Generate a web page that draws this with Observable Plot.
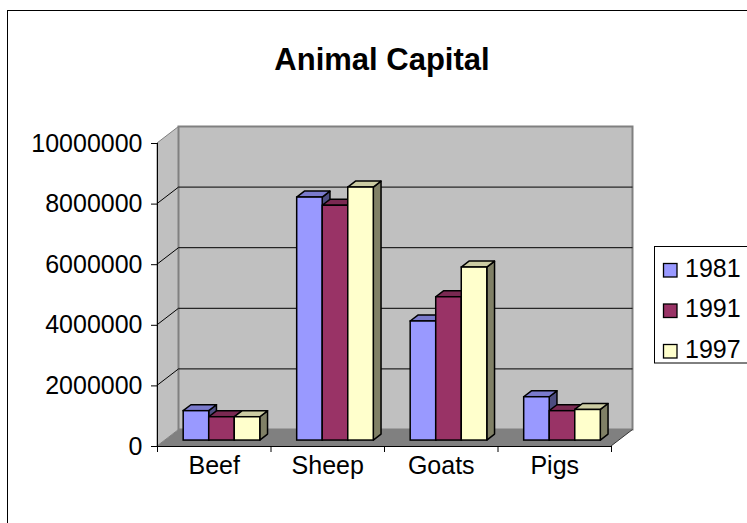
<!DOCTYPE html>
<html>
<head>
<meta charset="utf-8">
<script src="https://cdn.jsdelivr.net/npm/d3@7"></script>
<script src="https://cdn.jsdelivr.net/npm/@observablehq/plot@0.6"></script>
<style>
  html, body { margin: 0; padding: 0; background: #fff; }
  #chart { width: 747px; height: 523px; overflow: hidden; }
</style>
</head>
<body>
<div id="chart"></div>
<script>
// ---- data ----
const title = "Animal Capital";
const categories = ["Beef", "Sheep", "Goats", "Pigs"];
const years = ["1981", "1991", "1997"];
const values1981 = [970000, 8020000, 3930000, 1430000];
const values1991 = [770000, 7750000, 4730000, 970000];
const values1997 = [770000, 8350000, 5710000, 1010000];
const yTicks = [0, 2000000, 4000000, 6000000, 8000000, 10000000];

// ---- styles ----
const yearColors = ["#9999FF", "#993366", "#FFFFCC"];
const FONT = "'Liberation Sans', Arial, sans-serif";
const DX = 21.5, DY = 16.5;      // full depth offset of the 3D box (px)
const D0 = 0.36, D1 = 0.72;      // bar front/back depth fractions
const GROUP = 0.675;             // group width as fraction of category band

const seriesValues = [values1981, values1991, values1997];
const nCat = categories.length;
const yMax = yTicks[yTicks.length - 1];
const rows = [];
categories.forEach((c, ci) => years.forEach((yr, si) => {
  const w = GROUP / years.length;
  const x1 = ci + 0.5 - GROUP / 2 + si * w;
  rows.push({category: c, year: yr, value: seriesValues[si][ci], x1, x2: x1 + w, si});
}));

const shade = (c, k) => { const r = d3.rgb(c); return d3.rgb(r.r * k, r.g * k, r.b * k).formatHex(); };
const pts = (a) => a.map(p => p.map(v => +v.toFixed(2)).join(",")).join(" ");

function room(index, {x, y}) {
  const P = (u, v, d) => [x(u) + d * DX, y(v) - d * DY];
  const g = d3.create("svg:g");
  g.append("rect").attr("x", 7.5).attr("y", 10.5).attr("width", 2000).attr("height", 2000)
    .attr("fill", "none").attr("stroke", "#000");
  g.append("polygon").attr("points", pts([P(0, 0, 0), P(nCat, 0, 0), P(nCat, 0, 1), P(0, 0, 1)]))
    .attr("fill", "#808080");
  g.append("polygon").attr("points", pts([P(0, 0, 0), P(0, yMax, 0), P(0, yMax, 1), P(0, 0, 1)]))
    .attr("fill", "#c0c0c0").attr("stroke", "#808080");
  g.append("polygon").attr("points", pts([P(0, 0, 1), P(nCat, 0, 1), P(nCat, yMax, 1), P(0, yMax, 1)]))
    .attr("fill", "#c0c0c0").attr("stroke", "#808080").attr("stroke-width", 2);
  for (const t of yTicks) {
    if (t > 0 && t < yMax) {
      g.append("polyline").attr("points", pts([P(0, t, 0), P(0, t, 1), P(nCat, t, 1)]))
        .attr("fill", "none").attr("stroke", "#000");
    }
  }
  g.append("polyline").attr("points", pts([P(nCat, 0, 0), P(nCat, 0, 1)]))
    .attr("fill", "none").attr("stroke", "#333");
  return g.node();
}

function barSides(index, {x, y}) {
  const P = (u, v, d) => [x(u) + d * DX, y(v) - d * DY];
  const g = d3.create("svg:g").attr("stroke", "#000").attr("stroke-width", 1.5).attr("stroke-linejoin", "round");
  for (const r of rows) {
    const c = yearColors[r.si];
    g.append("polygon").attr("points", pts([P(r.x2, 0, D0), P(r.x2, r.value, D0), P(r.x2, r.value, D1), P(r.x2, 0, D1)]))
      .attr("fill", shade(c, 0.5));
    g.append("polygon").attr("points", pts([P(r.x1, r.value, D0), P(r.x2, r.value, D0), P(r.x2, r.value, D1), P(r.x1, r.value, D1)]))
      .attr("fill", shade(c, 0.8));
  }
  return g.node();
}

function legend() {
  const g = d3.create("svg:g");
  g.append("rect").attr("x", 654.5).attr("y", 246.5).attr("width", 200).attr("height", 116.5)
    .attr("fill", "#fff").attr("stroke", "#000");
  years.forEach((yr, i) => {
    g.append("rect").attr("x", 663.5).attr("y", 263.5 + i * 40.5).attr("width", 13.5).attr("height", 13.5)
      .attr("fill", yearColors[i]).attr("stroke", "#000").attr("stroke-width", 1.3);
    g.append("text").attr("x", 685).attr("y", 276.7 + i * 40.5).attr("font-size", 25)
      .attr("text-anchor", "start").attr("fill", "#000").text(yr);
  });
  return g.node();
}

const chart = Plot.plot({
  width: 747,
  height: 523,
  marginLeft: 157,
  marginRight: 136,
  marginTop: 143,
  marginBottom: 77,
  x: {type: "linear", domain: [0, nCat]},
  y: {type: "linear", domain: [0, yMax]},
  color: {domain: years, range: yearColors},
  style: {fontFamily: FONT, background: "#fff", color: "#000", overflow: "hidden"},
  marks: [
    room,
    Plot.ruleX([0], {y1: 0, y2: yMax, stroke: "#000"}),
    Plot.ruleY([0], {x1: 0, x2: nCat, stroke: "#000"}),
    Plot.axisY({ticks: yTicks, tickSize: 6, tickPadding: 9, tickFormat: d3.format("d"), fontSize: 25, label: null}),
    Plot.axisX({ticks: d3.range(nCat + 1), tickSize: 6, tickFormat: () => "", label: null}),
    Plot.text(categories, {x: (d, i) => i + 0.5, frameAnchor: "bottom", dy: 27.7, fontSize: 25, fill: "#000"}),
    barSides,
    Plot.rectY(rows, {x1: "x1", x2: "x2", y1: 0, y2: "value", fill: "year", stroke: "#000", strokeWidth: 1.5,
      dx: D0 * DX, dy: -D0 * DY}),
    Plot.text([title], {frameAnchor: "top", dx: -2.5, dy: -96, fontSize: 31, fontWeight: "bold", fill: "#000"}),
    legend
  ]
});
document.getElementById("chart").appendChild(chart);
</script>
</body>
</html>
